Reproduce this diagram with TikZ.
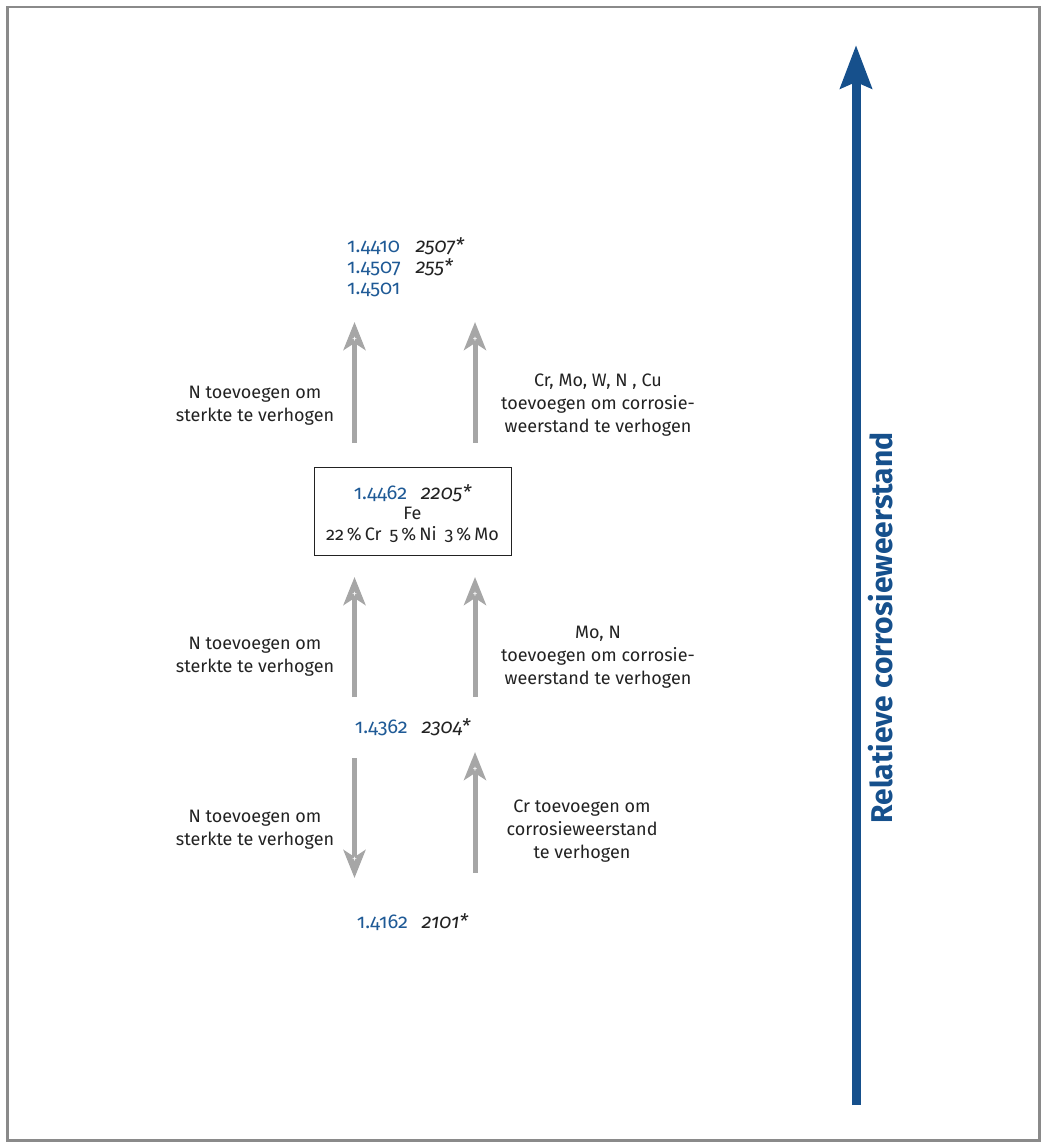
\documentclass[tikz,border=0pt]{standalone}
\usepackage{fontspec}
\setmainfont{Fira Sans}[Numbers=OldStyle]
\usetikzlibrary{arrows.meta}
\definecolor{numblue}{HTML}{1F5A96}
\definecolor{bigblue}{HTML}{16508C}
\definecolor{arrgray}{HTML}{A6A6A6}
\definecolor{txtc}{HTML}{222222}
\definecolor{framec}{HTML}{8A8A8A}
\newcommand{\gnb}[1]{\textcolor{numblue}{\fontsize{20}{20.5}\selectfont #1}}
\newcommand{\gni}[1]{{\fontsize{20}{20.5}\selectfont\itshape #1}}
\tikzset{
  lbl/.style={text=txtc, font=\fontsize{18}{23}\selectfont, align=center, inner sep=0pt},
  num/.style={text=txtc, font=\fontsize{18}{20.5}\selectfont, inner sep=0pt},
  garrow/.style={draw=arrgray, line width=5pt, -{Stealth[length=28pt,width=22pt,inset=7pt]}},
  plus/.style={text=white, font=\fontsize{10}{10}\selectfont, inner sep=0pt},
}
\begin{document}
\begin{tikzpicture}[x=1pt,y=-1pt]
\useasboundingbox (0,0) rectangle (1045,1148);
\draw[framec, line width=2.5pt] (7.5,7) rectangle (1039.5,1140.5);

% big blue arrow
\coordinate (bb) at (856,1105);
\coordinate (bt) at (856,45);
\draw[bigblue, line width=9pt, -{Stealth[length=43pt,width=31pt,inset=6pt]}] (bb) -- (bt);
\node[text=bigblue, font=\fontsize{30}{30}\selectfont\bfseries, rotate=90, inner sep=0pt] (axis) at (881,628) {Relatieve corrosieweerstand};

% top grades
\node[num, font=\fontsize{20}{21}\selectfont, anchor=west] (top) at (347,269) {\begin{tabular}{@{}l@{\hspace{15pt}}l@{}}
\gnb{1.4410} & \gni{2507*}\\
\gnb{1.4507} & \gni{255*}\\
\gnb{1.4501} & \end{tabular}};

% box
\node[draw=txtc, line width=1pt, minimum width=197pt, minimum height=88pt, inner sep=0pt] (box) at (412.5,511) {};
\node[num, align=center] (boxtext) at (412.5,513.5)
 {\gnb{1.4462}\hspace{14pt}\gni{2205*}\\ Fe\\ 22\,\%\,Cr\hspace{8pt}5\,\%\,Ni\hspace{8pt}3\,\%\,Mo};

\node[num] (g2304) at (412.5,727) {\gnb{1.4362}\hspace{14pt}\gni{2304*}};
\node[num] (g2101) at (412.5,922) {\gnb{1.4162}\hspace{14pt}\gni{2101*}};

% upper arrows
\coordinate (a1s) at (354.5,443); \coordinate (a1e) at (354.5,322);
\coordinate (a2s) at (475,443); \coordinate (a2e) at (475,322);
\draw[garrow] (a1s) -- (a1e);
\draw[garrow] (a2s) -- (a2e);
\node[plus] at ([yshift=-18pt]a1e) {+};
\node[plus] at ([yshift=-18pt]a2e) {+};

% middle arrows
\coordinate (b1s) at (354.5,697); \coordinate (b1e) at (354.5,577);
\coordinate (b2s) at (475,697); \coordinate (b2e) at (475,577);
\draw[garrow] (b1s) -- (b1e);
\draw[garrow] (b2s) -- (b2e);
\node[plus] at ([yshift=-18pt]b1e) {+};
\node[plus] at ([yshift=-18pt]b2e) {+};

% lower arrows
\coordinate (c1s) at (354.5,758); \coordinate (c1e) at (354.5,878);
\coordinate (c2s) at (475,873); \coordinate (c2e) at (475,752);
\draw[garrow] (c1s) -- (c1e);
\draw[garrow] (c2s) -- (c2e);
\node[plus] at ([yshift=18pt]c1e) {+};
\node[plus] at ([yshift=-18pt]c2e) {+};

% labels
\node[lbl] (l1) at (255,406) {N toevoegen om\\sterkte te verhogen};
\node[lbl] (l2) at (255,657) {N toevoegen om\\sterkte te verhogen};
\node[lbl] (l3) at (255,830) {N toevoegen om\\sterkte te verhogen};
\node[lbl] (r1) at (598,405) {Cr, Mo, W, N , Cu\\toevoegen om corrosie-\\weerstand te verhogen};
\node[lbl] (r2) at (598,657) {Mo, N\\toevoegen om corrosie-\\weerstand te verhogen};
\node[lbl] (r3) at (582,831) {Cr toevoegen om\\corrosieweerstand\\te verhogen};
\end{tikzpicture}
\end{document}
